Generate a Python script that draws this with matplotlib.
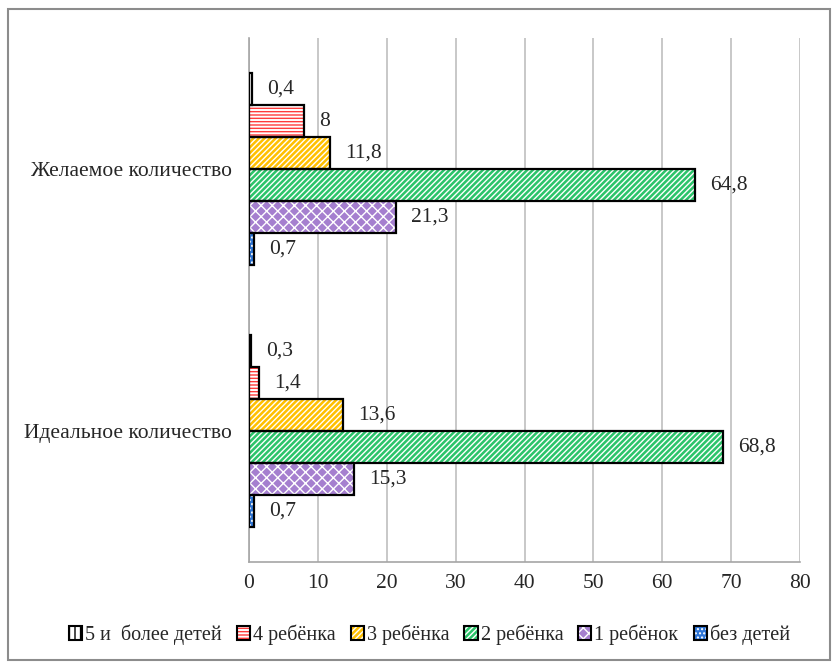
import matplotlib
matplotlib.use("Agg")
import matplotlib.pyplot as plt
from matplotlib.patches import Rectangle
from matplotlib.legend_handler import HandlerTuple
import numpy as np

plt.rcParams['font.family'] = ['Liberation Serif', 'DejaVu Serif']
plt.rcParams['hatch.linewidth'] = 1.0

categories = ["Идеальное количество", "Желаемое количество"]
series_names = ["без детей", "1 ребёнок", "2 ребёнка", "3 ребёнка", "4 ребёнка", "5 и  более детей"]
values = {
    "без детей": [0.7, 0.7],
    "1 ребёнок": [15.3, 21.3],
    "2 ребёнка": [68.8, 64.8],
    "3 ребёнка": [13.6, 11.8],
    "4 ребёнка": [1.4, 8],
    "5 и  более детей": [0.3, 0.4],
}
xticks = [0, 10, 20, 30, 40, 50, 60, 70, 80]

styles = {
    "без детей": dict(face="#2E75D6", hatch_color="white", hatch="...."),
    "1 ребёнок": dict(face="#A57FCF", hatch_color="white", hatch="xxx"),
    "2 ребёнка": dict(face="#2BC46A", hatch_color="white", hatch="//////"),
    "3 ребёнка": dict(face="#FFC000", hatch_color="white", hatch="//////"),
    "4 ребёнка": dict(face="white", hatch_color="#FF3B3B", hatch="-----"),
    "5 и  более детей": dict(face="white", hatch_color="black", hatch="|||"),
}

FS = 15.5
TXT = "#262626"

def fmt(v):
    return ("%g" % v).replace('.', ',')

fig = plt.figure(figsize=(8.37, 6.66), dpi=100)
ax = fig.add_axes([249/837, 1-562/666, (800-249)/837, (562-38)/666])

y = np.arange(len(categories))
h = 0.122
n = len(series_names)
for i, name in enumerate(series_names):
    off = (i - (n-1)/2) * h
    st = styles[name]
    vals = values[name]
    ax.barh(y + off, vals, height=h, color=st["face"], edgecolor=st["hatch_color"],
            hatch=st["hatch"], linewidth=0, zorder=3)
    ax.barh(y + off, vals, height=h, fill=False, edgecolor="black", linewidth=1.6, zorder=4)
    for yy, v in zip(y + off, vals):
        ax.annotate(fmt(v), (v, yy), xytext=(11, 0), textcoords="offset points",
                    ha="left", va="center", fontsize=FS, color=TXT, zorder=5)

ax.set_xlim(0, 80)
ax.set_ylim(-0.5, 1.5)
ax.set_xticks(xticks)
ax.set_xticklabels([str(t) for t in xticks], fontsize=FS, color=TXT)
ax.set_yticks(y)
ax.set_yticklabels(categories, fontsize=FS, color=TXT)
ax.tick_params(axis='both', length=0)
ax.tick_params(axis='y', pad=12)
ax.tick_params(axis='x', pad=9)
ax.grid(axis='x', color='#BFBFBF', linewidth=1.2, zorder=0)
ax.set_axisbelow(True)
for s in ['top', 'right']:
    ax.spines[s].set_visible(False)
for s in ['left', 'bottom']:
    ax.spines[s].set_color('#A6A6A6')
    ax.spines[s].set_linewidth(1.2)

# legend
handles = []
labels = []
for name in reversed(series_names):
    st = styles[name]
    fill = Rectangle((0, 0), 1, 1, facecolor=st["face"], edgecolor=st["hatch_color"],
                     hatch=st["hatch"], linewidth=0)
    outline = Rectangle((0, 0), 1, 1, fill=False, edgecolor="black", linewidth=1.5)
    handles.append((fill, outline))
    labels.append(name)
leg = fig.legend(handles, labels, loc='center', bbox_to_anchor=(0.513, 1-635/666),
                 ncol=6, frameon=False, prop={'family': 'Liberation Serif', 'size': 14.5},
                 handlelength=0.65, handleheight=0.65,
                 handletextpad=0.15, columnspacing=0.75,
                 handler_map={tuple: HandlerTuple(ndivide=1, pad=0)})
for t in leg.get_texts():
    t.set_color(TXT)

# outer border
fig.patches.append(Rectangle((8/837, 6/666), (830-8)/837, (657-6)/666, transform=fig.transFigure,
                             fill=False, edgecolor='#8C8C8C', linewidth=1.5))

fig.savefig("out.png", dpi=100)
